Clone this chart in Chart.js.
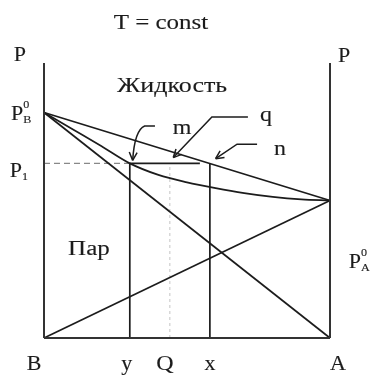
<!DOCTYPE html>
<html lang="ru">
<head>
<meta charset="UTF-8">
<title>Диаграмма давление – состав</title>
<script src="https://cdn.jsdelivr.net/npm/chart.js"></script>
<style>
  body { margin: 0; background: #fff; }
  #box { width: 370px; height: 375px; }
</style>
</head>
<body>
<div id="box"><canvas id="diagram" width="370" height="375"></canvas></div>
<script>
  // состав — доля компонента A (B слева, A справа), давление в условных единицах (100 = верх осей)
  const composition = [0, 0.1, 0.2, 0.3, 0.4, 0.5, 0.6, 0.7, 0.8, 0.9, 1];
  const vaporP = [82, 75.9, 69.8, 63.5, 59.3, 56.6, 54.5, 52.7, 51.3, 50.4, 50];
  const PB0 = 82, PA0 = 50, P1 = 63.5;
  const yVap = 0.30, Q = 0.44, xLiq = 0.58;
  const tieEnd = 0.545;

  const INK = '#1c1c1c';
  const FONT = '"Liberation Serif", "DejaVu Serif", serif';

  function seg(x1, y1, x2, y2, opts) {
    return Object.assign({
      data: [{ x: x1, y: y1 }, { x: x2, y: y2 }],
      showLine: true, borderColor: INK, borderWidth: 1.7,
      pointRadius: 0, clip: false
    }, opts || {});
  }

  const datasets = [
    seg(0, 0, 0, 100, { borderWidth: 2, borderColor: '#333' }),
    seg(1, 0, 1, 100, { borderWidth: 2, borderColor: '#333' }),
    seg(0, 0, 1, 0, { borderWidth: 2, borderColor: '#333' }),
    // линия жидкости
    seg(0, PB0, 1, PA0),
    // линия пара
    {
      data: composition.map((c, i) => ({ x: c, y: vaporP[i] })),
      showLine: true, borderColor: INK, borderWidth: 1.7, pointRadius: 0,
      cubicInterpolationMode: 'monotone', clip: false
    },
    // парциальные давления
    seg(0, PB0, 1, 0),
    seg(0, 0, 1, PA0),
    // P1 и ноды
    seg(0, P1, yVap, P1, { borderColor: '#888', borderWidth: 1.2, borderDash: [6, 4] }),
    seg(yVap, P1, tieEnd, P1),
    seg(yVap, 0, yVap, P1),
    seg(xLiq, 0, xLiq, P1),
    seg(Q, 0, Q, P1, { borderColor: '#c4c4c4', borderWidth: 1, borderDash: [3, 3] })
  ];

  const labelsPlugin = {
    id: 'labels',
    afterDatasetsDraw(chart) {
      const ctx = chart.ctx;
      const sx = chart.scales.x, sy = chart.scales.y;
      const px = v => sx.getPixelForValue(v);
      const py = v => sy.getPixelForValue(v);

      function text(str, x, y, size, align, stretch) {
        ctx.save();
        ctx.font = size + 'px ' + FONT;
        ctx.fillStyle = INK;
        ctx.strokeStyle = INK;
        ctx.lineWidth = 0.12;
        ctx.textBaseline = 'alphabetic';
        const k = stretch || 1.2;
        const w = ctx.measureText(str).width * k;
        let left = x;
        if (align === 'center') left = x - w / 2;
        if (align === 'right') left = x - w;
        ctx.translate(left, y);
        ctx.scale(k, 1);
        ctx.fillText(str, 0, 0);
        ctx.strokeText(str, 0, 0);
        ctx.restore();
        return left + w;
      }

      // P с индексами
      function pressure(cx, base, sup, sub) {
        const end = text('P', cx, base, 20, 'center', 1.1);
        if (sup) text(sup, end, base - 12, 11, 'left', 1.1);
        if (sub) text(sub, end, base + 3, 11, 'left', 1.1);
      }

      text('T = const', px(0.409), py(112.4), 20, 'center', 1.25);
      text('P', px(-0.084), py(100.7), 20, 'center', 1.1);
      text('P', px(1.049), py(100.4), 20, 'center', 1.1);
      text('Жидкость', px(0.448), py(89.5), 20, 'center', 1.3);
      text('Пар', px(0.157), py(30.2), 20, 'center', 1.25);

      pressure(px(-0.094), py(79.3), '0', 'B');
      pressure(px(-0.098), py(58.5), null, '1');
      pressure(px(1.087), py(25.5), '0', 'A');

      const base = py(-11.6);
      text('B', px(-0.035), base, 20, 'center', 1.1);
      text('y', px(yVap) - 3, base, 20, 'center', 1.1);
      text('Q', px(Q) - 5, base, 20, 'center', 1.2);
      text('x', px(xLiq), base, 20, 'center', 1.1);
      text('A', px(1.028), base, 20, 'center', 1.1);

      text('m', px(0.483), py(74.2), 20, 'center', 1.2);
      text('q', px(0.776), py(78.9), 20, 'center', 1.2);
      text('n', px(0.825), py(66.5), 20, 'center', 1.2);

      // стрелки-выноски: полочка, излом и остриё у точки
      const arrows = [
        [[0.388, 77.1], [0.352, 77.1], [0.31, 64.6]],
        [[0.713, 80.4], [0.587, 80.4], [0.452, 65.6]],
        [[0.745, 70.5], [0.675, 70.5], [0.6, 65.2]]
      ];
      ctx.save();
      ctx.strokeStyle = INK;
      ctx.lineWidth = 1.5;
      arrows.forEach((a, idx) => {
        const pts = a.map(p => [px(p[0]), py(p[1])]);
        ctx.beginPath();
        ctx.moveTo(pts[0][0], pts[0][1]);
        ctx.lineTo(pts[1][0], pts[1][1]);
        if (idx === 0) {
          // у m выноска загнута крючком
          ctx.quadraticCurveTo(pts[2][0] + 2, pts[1][1] + 4, pts[2][0], pts[2][1]);
        } else {
          ctx.lineTo(pts[2][0], pts[2][1]);
        }
        ctx.stroke();
        const [x1, y1] = idx === 0 ? [pts[2][0] + 2, pts[1][1] + 4] : pts[1];
        const [x2, y2] = pts[2];
        const ang = Math.atan2(y2 - y1, x2 - x1);
        ctx.beginPath();
        [-0.45, 0.45].forEach(d => {
          ctx.moveTo(x2, y2);
          ctx.lineTo(x2 - 9 * Math.cos(ang + d), y2 - 9 * Math.sin(ang + d));
        });
        ctx.stroke();
      });
      ctx.restore();
    }
  };

  new Chart(document.getElementById('diagram').getContext('2d'), {
    type: 'scatter',
    data: { datasets: datasets },
    options: {
      responsive: false,
      animation: false,
      layout: { padding: { left: 44, right: 40, top: 63, bottom: 37 } },
      plugins: { legend: { display: false }, tooltip: { enabled: false } },
      scales: {
        x: { type: 'linear', min: 0, max: 1, display: false },
        y: { type: 'linear', min: 0, max: 100, display: false }
      }
    },
    plugins: [labelsPlugin]
  });
</script>
</body>
</html>
